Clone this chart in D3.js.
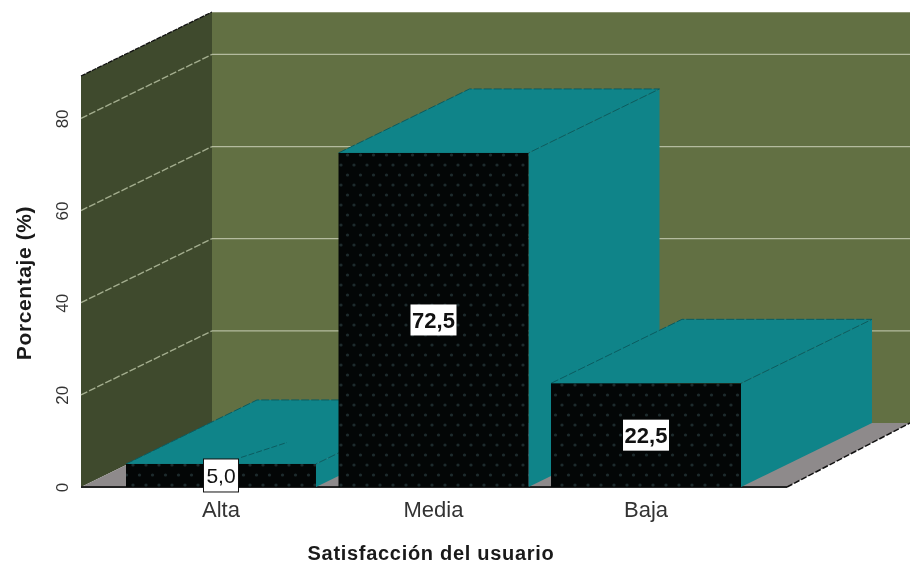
<!DOCTYPE html>
<html>
<head>
<meta charset="utf-8">
<script src="https://cdn.jsdelivr.net/npm/d3@7"></script>
<style>
  body { margin: 0; background: #fff; }
  text { font-family: "Liberation Sans", Arial, sans-serif; }
  svg { filter: blur(0.45px); }
</style>
</head>
<body>
<div id="chart"></div>
<script>
var categories = ["Alta", "Media", "Baja"];
var percentages = [5.0, 72.5, 22.5];
var valueLabels = ["5,0", "72,5", "22,5"];
var gridTicks = [20, 40, 60, 80];
var axisTicks = [0, 20, 40, 60, 80];

const width = 910, height = 566;
// 3d offset between the front plane and the back wall
const depthX = 131, depthY = -64;
const frontLeft = 81, frontRight = 787, wallRight = 910;

var y = d3.scaleLinear().domain([0, 89.2]).range([487, 76]);
var x = d3.scaleBand().domain(categories).range([126, 741]).paddingInner(0.106);

const svg = d3.select("#chart").append("svg")
    .attr("width", width)
    .attr("height", height)
    .style("display", "block");

const pattern = svg.append("defs").append("pattern")
    .attr("id", "dots")
    .attr("patternUnits", "userSpaceOnUse")
    .attr("width", 13)
    .attr("height", 20);
pattern.append("rect").attr("width", 13).attr("height", 20).attr("fill", "#030606");
pattern.selectAll("circle")
    .data([[3, 5], [9.5, 15]])
    .enter()
    .append("circle")
    .attr("cx", function(d){ return d[0]; })
    .attr("cy", function(d){ return d[1]; })
    .attr("r", 1.6)
    .attr("fill", "#1d2b2d");

function poly(points, fill){
    return svg.append("polygon")
        .attr("points", points.map(function(p){ return p.join(","); }).join(" "))
        .attr("fill", fill);
}

// walls and floor
var y0 = y(0), yTop = y.range()[1];
poly([[frontLeft + depthX, yTop + depthY], [wallRight, yTop + depthY], [wallRight, y0 + depthY], [frontLeft + depthX, y0 + depthY]], "#627043");
poly([[frontLeft, yTop], [frontLeft + depthX, yTop + depthY], [frontLeft + depthX, y0 + depthY], [frontLeft, y0]], "#3f4a2d");
poly([[frontLeft, y0], [frontLeft + depthX, y0 + depthY], [wallRight, y0 + depthY], [frontRight, y0]], "#8e8a8b");

// gridlines
svg.selectAll("line.back")
    .data(gridTicks)
    .enter()
    .append("line")
    .attr("class", "back")
    .attr("x1", frontLeft + depthX)
    .attr("x2", wallRight)
    .attr("y1", function(d){ return y(d) + depthY; })
    .attr("y2", function(d){ return y(d) + depthY; })
    .attr("stroke", "#b4bb9e")
    .attr("stroke-width", 1.3);
svg.selectAll("line.side")
    .data(gridTicks)
    .enter()
    .append("line")
    .attr("class", "side")
    .attr("x1", frontLeft)
    .attr("x2", frontLeft + depthX)
    .attr("y1", function(d){ return y(d); })
    .attr("y2", function(d){ return y(d) + depthY; })
    .attr("stroke", "#a3ad8e")
    .attr("stroke-width", 1.4)
    .attr("stroke-dasharray", "7 2");

// outer edges
svg.append("line")
    .attr("x1", frontLeft).attr("y1", yTop)
    .attr("x2", frontLeft + depthX).attr("y2", yTop + depthY)
    .attr("stroke", "#111").attr("stroke-width", 1.3).attr("stroke-dasharray", "5 1");
svg.append("line")
    .attr("x1", frontRight).attr("y1", y0)
    .attr("x2", wallRight).attr("y2", y0 + depthY)
    .attr("stroke", "#111").attr("stroke-width", 1.5).attr("stroke-dasharray", "6 2");
svg.append("line")
    .attr("x1", frontLeft + depthX).attr("y1", yTop + depthY + 0.5)
    .attr("x2", wallRight).attr("y2", yTop + depthY + 0.5)
    .attr("stroke", "#8c9574");
svg.append("line")
    .attr("x1", frontLeft).attr("y1", y0)
    .attr("x2", frontRight).attr("y2", y0)
    .attr("stroke", "#222").attr("stroke-width", 2);

// bars, back faces first, left to right
categories.forEach(function(c, i){
    var x0 = x(c), x1 = x0 + x.bandwidth(), yv = y(percentages[i]);
    poly([[x1, yv], [x1 + depthX, yv + depthY], [x1 + depthX, y0 + depthY], [x1, y0]], "#0f8489");
    poly([[x0, yv], [x0 + depthX, yv + depthY], [x1 + depthX, yv + depthY], [x1, yv]], "#0f8489");
    svg.append("path")
        .attr("d", "M" + x0 + "," + yv + "L" + (x0 + depthX) + "," + (yv + depthY)
            + "L" + (x1 + depthX) + "," + (yv + depthY) + "L" + x1 + "," + yv)
        .attr("fill", "none")
        .attr("stroke", "#0b5c60")
        .attr("stroke-width", 1)
        .attr("stroke-dasharray", "8 2");
    svg.append("rect")
        .attr("x", x0)
        .attr("y", yv)
        .attr("width", x.bandwidth())
        .attr("height", y0 - yv)
        .attr("fill", "url(#dots)");
});

// value labels
categories.forEach(function(c, i){
    var cx = x(c) + x.bandwidth() / 2;
    var cy = (y(percentages[i]) + y0) / 2;
    var w = valueLabels[i].length > 3 ? 46 : 35;
    var h = i === 0 ? 33 : 31;
    if (i === 0) {
        // leader line from the small label
        svg.append("line")
            .attr("x1", cx + 20).attr("y1", cy - 18)
            .attr("x2", cx + 66).attr("y2", cy - 33)
            .attr("stroke", "#0b5c60")
            .attr("stroke-dasharray", "6 2");
    }
    svg.append("rect")
        .attr("x", cx - w / 2)
        .attr("y", cy - h / 2)
        .attr("width", w)
        .attr("height", h)
        .attr("fill", "#fff")
        .attr("stroke", i === 0 ? "#111" : "none");
    svg.append("text")
        .attr("x", cx)
        .attr("y", cy + 8)
        .attr("text-anchor", "middle")
        .attr("font-size", i === 0 ? 21 : 22)
        .attr("font-weight", i === 0 ? "normal" : "bold")
        .attr("fill", "#111")
        .text(valueLabels[i]);
});

// axes
var yAxis = d3.axisLeft(y).tickValues(axisTicks).tickSize(0).tickPadding(0);
const yG = svg.append("g").attr("transform", "translate(" + frontLeft + ",0)").call(yAxis);
yG.select(".domain").remove();
yG.selectAll("text")
    .attr("x", 0)
    .attr("y", 0)
    .attr("dy", 0)
    .attr("text-anchor", "middle")
    .attr("font-size", 17)
    .attr("fill", "#333")
    .style("font-family", '"Liberation Sans", Arial, sans-serif')
    .attr("transform", "translate(-13,0) rotate(-90)");

var xAxis = d3.axisBottom(x).tickSize(0).tickPadding(0);
const xG = svg.append("g").attr("transform", "translate(0,500)").call(xAxis);
xG.select(".domain").remove();
xG.selectAll("text")
    .attr("font-size", 22)
    .attr("fill", "#333")
    .attr("dy", "0.75em")
    .style("font-family", '"Liberation Sans", Arial, sans-serif');

svg.append("text")
    .attr("x", 431)
    .attr("y", 560)
    .attr("text-anchor", "middle")
    .attr("font-size", 20)
    .attr("font-weight", "bold")
    .attr("letter-spacing", 0.7)
    .attr("fill", "#1a1a1a")
    .text("Satisfacción del usuario");

svg.append("text")
    .attr("transform", "translate(31,283) rotate(-90)")
    .attr("text-anchor", "middle")
    .attr("font-size", 21)
    .attr("font-weight", "bold")
    .attr("letter-spacing", 0.6)
    .attr("fill", "#1a1a1a")
    .text("Porcentaje (%)");
</script>
</body>
</html>
